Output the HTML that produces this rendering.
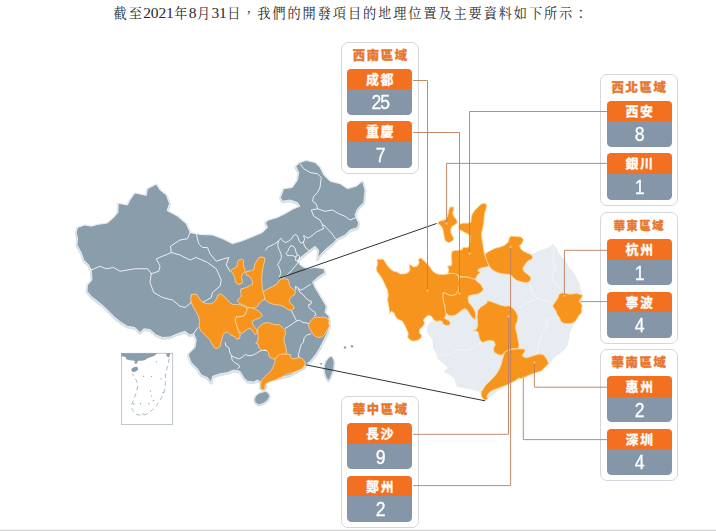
<!DOCTYPE html>
<html lang="zh-Hant">
<head>
<meta charset="utf-8">
<title>開發項目的地理位置</title>
<style>
html,body{margin:0;padding:0;background:#fff;}
body{width:716px;height:531px;position:relative;overflow:hidden;font-family:"Liberation Sans","Noto Sans CJK TC","Noto Sans CJK SC",sans-serif;}
.ttl{position:absolute;left:113.6px;top:2.5px;white-space:nowrap;font-family:"Liberation Serif","Noto Serif CJK SC",serif;font-size:13.2px;line-height:20px;letter-spacing:1.9px;color:#2a2a2a;}
.ttl b{font-weight:normal;font-size:15.5px;letter-spacing:-0.15px;margin-left:-0.6px;margin-right:0.6px;}
.rg{position:absolute;width:76.3px;height:130px;border:1px solid #d3d7de;border-radius:7px;background:#fff;box-sizing:content-box;}
.rt{position:absolute;left:0;top:3.9px;width:76.3px;-webkit-text-stroke:0.35px #e8772e;text-align:center;font-size:12.3px;line-height:18px;font-weight:900;color:#e8772e;letter-spacing:1.7px;text-indent:1.7px;white-space:nowrap;}
.cb{position:absolute;left:5.3px;width:65.4px;height:46.25px;border-radius:4.5px;overflow:hidden;background:#8496a7;}
.rc .cb{left:6px;}
.rt.sm{font-size:11.2px;letter-spacing:1.7px;text-indent:1.7px;top:4.1px;}
.cn{height:20.7px;background:#f37021;color:#fff;font-weight:bold;font-size:13px;line-height:21px;text-align:center;letter-spacing:1.4px;text-indent:1.4px;-webkit-text-stroke:0.3px #fff;}
.cv{height:25.55px;color:#fff;font-size:20.5px;line-height:25.9px;text-align:center;-webkit-text-stroke:0.3px #fff;}
.cv span{display:inline-block;transform:scaleX(.86);letter-spacing:-1px;padding-left:1px;}
.btm{position:absolute;left:0;top:529px;width:716px;height:2px;background:linear-gradient(#f3f3f3 0,#f3f3f3 40%,#d3d3d3 60%,#d3d3d3 100%);}
</style>
</head>
<body>
<div class="ttl">截至<b>2021</b>年<b>8</b>月<b>31</b>日，我們的開發項目的地理位置及主要資料如下所示：</div>
<div class="rg lc" style="left:340.75px;top:41.9px"><div class="rt">西南區域</div><div class="cb" style="top:25.9px"><div class="cn">成都</div><div class="cv"><span>25</span></div></div><div class="cb" style="top:78.5px"><div class="cn">重慶</div><div class="cv"><span>7</span></div></div></div><div class="rg rc" style="left:599.5px;top:73.75px"><div class="rt">西北區域</div><div class="cb" style="top:25.9px"><div class="cn">西安</div><div class="cv"><span>8</span></div></div><div class="cb" style="top:78.5px"><div class="cn">銀川</div><div class="cv"><span>1</span></div></div></div><div class="rg rc" style="left:599.5px;top:212.0px"><div class="rt sm">華東區域</div><div class="cb" style="top:25.9px"><div class="cn">杭州</div><div class="cv"><span>1</span></div></div><div class="cb" style="top:78.5px"><div class="cn">寧波</div><div class="cv"><span>4</span></div></div></div><div class="rg rc" style="left:599.5px;top:349.0px"><div class="rt">華南區域</div><div class="cb" style="top:25.9px"><div class="cn">惠州</div><div class="cv"><span>2</span></div></div><div class="cb" style="top:78.5px"><div class="cn">深圳</div><div class="cv"><span>4</span></div></div></div><div class="rg lc" style="left:340.75px;top:396.25px"><div class="rt">華中區域</div><div class="cb" style="top:25.9px"><div class="cn">長沙</div><div class="cv"><span>9</span></div></div><div class="cb" style="top:78.5px"><div class="cn">鄭州</div><div class="cv"><span>2</span></div></div></div>
<svg width="716" height="531" viewBox="0 0 716 531" style="position:absolute;left:0;top:0"><defs><filter id="bl" x="-10%" y="-10%" width="120%" height="120%"><feGaussianBlur stdDeviation="0.7"/></filter></defs><path d="M490,262 L510,258 L533.2,254.8 L539.1,251.8 L545,249.8 L550,247.9 L552.9,245.3 L555.9,248.8 L557.9,253.8 L560.8,256.8 L563.8,260.7 L566.8,264.7 L568.8,268.6 L571.7,271.6 L573.7,274.5 L575.7,278.5 L578.6,283.4 L579.6,288.4 L581,293.3 L580,310 L574,321 L571.5,326.4 L569.6,330.1 L568.4,335.2 L567.8,340.2 L566.5,345.2 L564,349 L560.2,352.1 L556.5,354.6 L552.7,357.8 L550.2,361.6 L548.3,364.1 L540,368 L520,378 L500,388 L486,399 L480,391 L472.5,388.75 L465,387.5 L457.7,386 L456.5,382.8 L455.2,377.8 L450.2,374 L445.2,371.5 L449,368.4 L446.4,364.6 L442,361.5 L438.3,357.7 L437,352.7 L433.9,348.3 L433.9,343.9 L433.2,338.9 L430,335 L427.6,331.3 L428.2,326.9 L432,322 L445,316 L455,300 L465,285 L475,270Z" fill="#e6ecf1" stroke="#e6ecf1" stroke-width="2" stroke-linejoin="round" filter="url(#bl)"/><path d="M528.22,281.47 L531.19,287.4 L533.17,294.32 L537.12,298.28 L540.09,298.28 L543.05,300.26 L548,301.24 L551.95,302.23" fill="none" stroke="#f6f8fa" stroke-width="0.8" stroke-linejoin="round"/><path d="M537.12,298.28 L529.21,302.23 L523.28,305.2 L518.33,308.17" fill="none" stroke="#f6f8fa" stroke-width="0.8" stroke-linejoin="round"/><path d="M552.94,245.88 L553.93,252.8 L552.94,260.71 L555.91,267.63 L552.94,272.57 L551.95,277.52 L554.92,282.46 L558.87,287.4 L561.84,292.35" fill="none" stroke="#f6f8fa" stroke-width="0.8" stroke-linejoin="round"/><path d="M555.8,317 L551.4,318.8 L546.4,318.8 L547,323.9 L545.1,328.9 L542,332.7 L540.7,337.7 L538.9,342.7 L537.6,349 L537,354" fill="none" stroke="#f6f8fa" stroke-width="0.8" stroke-linejoin="round"/><path d="M437.6,356.4 L442.7,355.2 L447.7,354.6 L452.7,353.3 L456.5,349.5 L460.2,349.5 L464,350.8 L469,350.2 L474.1,347 L477.8,344.5 L481.6,342.6 L485.4,342 L489.2,340.7 L492.9,341.4 L495.4,343.9" fill="none" stroke="#f6f8fa" stroke-width="0.8" stroke-linejoin="round"/><path d="M450.11,207.05 L453.25,206.8 L453.88,209.31 L452.62,212.45 L453.25,215.6 L455.14,218.11 L457.02,220.62 L457.02,223.14 L454.51,225.02 L452,226.28 L450.74,229.42 L451.12,233.19 L452.62,236.34 L453.88,238.85 L452,241.36 L448.85,242.62 L445.71,241.36 L444.45,238.22 L443.83,234.45 L443.2,230.68 L442.32,227.54 L440.06,225.02 L437.54,223.14 L439.43,221.25 L442.57,220.37 L445.71,219.62 L447.35,216.85 L448.23,213.08 L448.85,209.94Z" fill="#f7941e" stroke="#fcd795" stroke-width="0.9" stroke-linejoin="round"/><path d="M480.9,204.28 L484.68,203.28 L486.81,204.91 L485.93,209.31 L484.68,213.08 L484.05,218.11 L483.8,223.14 L482.79,228.17 L481.53,233.19 L481.78,238.22 L482.79,243.25 L483.42,248.28 L484.3,253.3 L485.93,258.33 L485.88,257.54 L487.76,261.94 L489.02,265.71 L486.51,266.97 L482.74,267.6 L478.96,268.85 L477.71,270.74 L480.22,272.62 L477.71,274.51 L476.45,277.02 L475.19,279.54 L471.42,278.28 L467.02,277.02 L462.62,277.02 L458.85,275.77 L453.83,273.88 L448.17,273.25 L448.8,270.11 L447.54,266.09 L451.31,265.71 L451.94,262.57 L451.31,256.28 L451.94,251.89 L451.62,251.42 L455.14,250.54 L458.91,250.16 L462.05,249.78 L462.43,248.03 L464.57,247.27 L467.71,247.65 L469.22,245.76 L469.97,240.74 L469.97,235.71 L467.71,233.82 L463.94,231.94 L460.17,230.05 L458.66,227.54 L459.16,224.4 L462.68,223.14 L467.71,223.14 L470.85,222.51 L471.23,218.11 L472.11,214.34 L474.62,210.57 L477.76,207.43Z" fill="#f7941e" stroke="#fcd795" stroke-width="0.9" stroke-linejoin="round"/><path d="M485.03,253.91 L490.06,250.77 L495.08,248.25 L500.11,247 L505.14,245.11 L508.28,241.97 L509.54,237.57 L511.42,236.06 L516.45,236.56 L520.85,236.94 L523.36,239.45 L522.11,243.23 L519.59,245.74 L520.85,248.88 L523.99,251.4 L527.76,253.28 L530.9,254.54 L532.79,257.05 L531.53,259.57 L529.02,260.19 L526.76,262.08 L524.62,265.22 L522.74,268.36 L523.99,271.51 L527.13,274.02 L530.28,276.53 L530.9,279.68 L528.39,282.19 L525.25,282.82 L520.22,281.56 L516.45,280.3 L513.31,277.79 L510.79,274.65 L505.14,274.02 L500.11,273.39 L495.08,271.51 L491.31,268.99 L488.8,265.22 L486.91,260.82 L485.66,257.05Z" fill="#f7941e" stroke="#fcd795" stroke-width="0.9" stroke-linejoin="round"/><path d="M376.91,259.43 L383.2,259.05 L385.08,261.94 L386.97,265.08 L390.11,268.85 L393.88,271.37 L397.02,272 L400.17,273.88 L404.57,273.88 L408.34,272.62 L409.97,270.11 L409.22,264.45 L410.85,265.08 L413.36,266.97 L417.13,266.34 L419.02,263.2 L418.39,259.43 L420.9,257.79 L422.79,259.43 L425.3,261.94 L427.82,264.45 L430.33,267.6 L432.22,270.74 L435.36,273.25 L439.76,274.51 L444.16,274.51 L447.93,273.88 L451.7,273.25 L455.47,273.88 L457.98,275.14 L458.5,277 L459.27,280 L459.69,284.19 L458.86,288.38 L458.02,291.73 L455.92,294.25 L452.57,295.5 L449.22,295.08 L445.87,293.41 L443.35,292.57 L442.93,296.76 L443.77,301.79 L445.03,306.82 L446.29,311.01 L445.87,315.2 L445.03,317.71 L444.13,317 L445.39,318.88 L449.16,320.77 L450.41,323.28 L449.16,325.42 L445.39,325.17 L442.87,323.91 L442.24,321.4 L440.36,320.77 L436.59,321.4 L433.45,319.51 L431.56,316.37 L428.42,315.11 L425.28,317.62 L423.39,320.14 L424.65,323.28 L422.76,326.42 L419.62,329.57 L419.24,332.71 L421.51,335.22 L421.25,337.74 L417.74,340.25 L413.34,341.25 L409.57,339.62 L407.68,337.11 L408.31,333.34 L406.42,328.94 L404.54,324.54 L402.02,320.77 L398.25,319.51 L395.74,317 L393.85,312.6 L391.34,311.34 L389.83,313.85 L388.83,306.31 L387.57,300.03 L388.2,295 L387.6,290.22 L385.71,286.45 L383.83,282.05 L381.94,278.28 L379.43,274.51 L376.91,271.37 L376.28,268.85 L377.54,263.83Z" fill="#f7941e" stroke="#fcd795" stroke-width="0.9" stroke-linejoin="round"/><path d="M462.62,277.02 L467.02,277.02 L471.42,278.28 L475.19,279.54 L477.71,282.05 L480.85,284.57 L483.58,289.22 L481.06,292.57 L476.87,294.25 L471.84,295.08 L468.49,295.92 L468.07,299.27 L468.91,302.63 L471.01,305.14 L473.52,308.49 L475.2,311.84 L475.62,316.03 L475.2,319.39 L473.1,318.55 L471.01,316.03 L468.91,312.68 L466.82,309.75 L464.72,308.49 L461.79,310.17 L458.44,313.1 L455.08,315.2 L451.73,316.03 L448.38,315.2 L445.87,312.68 L445.03,309.33 L445.03,306.82 L443.77,301.79 L442.93,296.76 L443.35,292.57 L445.87,293.41 L449.22,295.08 L452.57,295.5 L455.92,294.25 L458.02,291.73 L458.86,288.38 L459.69,284.19 L459.27,280 L458.5,277Z" fill="#f7941e" stroke="#fcd795" stroke-width="0.9" stroke-linejoin="round"/><path d="M477.71,310.71 L480.22,307.57 L483.99,305.06 L487.13,302.79 L487.13,300.66 L490.28,301.28 L495.3,303.17 L500.33,305.06 L505.36,306.31 L509.13,305.68 L512.9,308.2 L516.04,311.97 L517.93,316.37 L517.3,321.4 L515.41,325.79 L516.04,330.19 L517.3,335.22 L518.18,340.25 L518.93,345.28 L518.56,348.42 L514.16,348.8 L510.39,349.3 L507.87,350.93 L504.73,352.19 L502.22,354.7 L500.33,355.33 L497.19,354.07 L494.05,352.19 L493.42,348.42 L495.3,344.65 L494.05,341.51 L490.28,340.25 L486.51,340.88 L482.74,342.51 L480.22,340.25 L478.96,336.48 L478.34,332.71 L476.45,330.82 L472.68,330.82 L476.45,328.94 L477.71,325.79 L477.46,321.4 L477.08,316.37Z" fill="#f7941e" stroke="#fcd795" stroke-width="0.9" stroke-linejoin="round"/><path d="M504.54,351.94 L507.68,350.68 L511.45,349.43 L517.74,348.8 L524.02,349.05 L525.28,350.68 L523.39,353.83 L522.13,355.71 L524.65,357.6 L527.79,357.6 L531.56,356.34 L535.33,355.08 L539.1,354.08 L542.87,354.45 L545.39,356.97 L547.27,360.11 L548.53,363.25 L546.64,365.77 L544.13,368.28 L541.62,370.79 L537.85,372.05 L534.07,373.31 L530.3,374.69 L526.53,376.2 L524.27,377.83 L521.76,378.46 L518.74,378.08 L515.47,380.47 L511.45,382.74 L507.68,384.62 L502.65,386.51 L497.62,388.39 L492.6,390.28 L488.83,392.79 L486.94,395.93 L487.57,399.07 L485.68,400.33 L483.17,399.07 L481.28,395.93 L481.28,392.16 L483.17,389.02 L485.68,385.25 L489.45,381.48 L493.23,377.71 L497,373.31 L499.51,368.91 L501.4,363.88 L502.65,358.85 L503.66,355.08Z" fill="#f7941e" stroke="#fcd795" stroke-width="0.9" stroke-linejoin="round"/><path d="M552.68,305.82 L555.19,302.05 L557.71,298.28 L558.96,294.51 L561.48,292.88 L565.25,293.25 L569.02,294.13 L572.79,293.88 L576.56,293.25 L580.33,294.51 L582.85,295.14 L581.59,297.65 L579.7,300.17 L580.33,302.68 L582.22,305.19 L581.59,308.96 L581.59,312.74 L579.07,315.25 L577.19,318.39 L575.3,321.53 L571.53,323.42 L567.76,323.8 L563.99,323.42 L560.85,321.53 L559.59,317.76 L557.08,314.62 L555.82,310.85 L553.94,308.34Z" fill="#f7941e" stroke="#fcd795" stroke-width="0.9" stroke-linejoin="round"/><path d="M76.25,232.5 L77.5,227.5 L85,225 L91.25,226.25 L97.5,224.5 L107.5,223 L113.75,217.5 L118,212.5 L118.25,203.25 L127.5,205 L130,200 L135,193 L146.25,195.5 L147.5,188.75 L156.25,184.25 L160,190 L166.25,195 L169.5,203.75 L167,210.5 L177.5,216.25 L186.25,223.75 L190,232 L200,234.5 L212.5,235 L222.5,238.75 L232.5,243.75 L241.25,241.25 L253.75,236.25 L262.5,232.5 L267.5,227.5 L265.5,222.5 L268.75,220 L277.5,217.5 L285,213.75 L293.75,208.75 L300,206.25 L297.5,202.5 L290,200 L282.5,201.25 L280.5,197.5 L283.75,188.75 L292.5,187.5 L297.5,180 L298.75,172.5 L295.75,166.25 L300,162.5 L306.25,160.5 L315,162.5 L320,167.5 L323.75,175 L330,181.25 L340,183.75 L347.5,188.75 L356.25,186.25 L362.5,181.25 L365,190 L363.75,202.5 L357.5,208.75 L355,215 L358.75,222.5 L357.5,227.5 L350,230 L345,235 L337.5,238.75 L332.5,243.75 L326.25,248.75 L320,255 L317.5,258.75 L318.75,250 L315,246.25 L310,250 L303.75,255 L297.5,260 L300,265 L306.25,268.75 L315,267.5 L323.75,268.75 L325,272.5 L317.5,277.5 L312.5,282 L315,287.5 L318.75,293.75 L322.5,300 L326.25,306.25 L325,312.5 L328.75,316.25 L329.5,325 L327.5,332.5 L323.75,340 L320,347.5 L316.25,353.75 L311.25,360 L306.25,364.5 L303.75,367.5 L297.5,371.25 L290,375 L280,377.5 L270,379.5 L265,382.5 L266.25,386.25 L263.75,390 L260.5,387.5 L261.25,382.5 L257.5,380 L253.75,382 L247.5,381.25 L243.75,377.5 L240,371.25 L233.75,370 L227.5,372.5 L220,373.75 L212.5,376.25 L211.25,382.5 L207.5,377.5 L201.25,375 L197.5,368.75 L191.25,362.5 L188.75,356.25 L188.75,353.75 L195,347.5 L196.25,340 L193.75,333.75 L190,335 L185,331.25 L177.5,333.75 L170,337 L162.5,337.5 L156.25,335 L150,329.5 L143.75,328.75 L140,332.5 L135,327.5 L127.5,326.25 L121.25,322.5 L115,317.5 L110,312.5 L103.75,306.25 L97.5,301.25 L91.25,296.25 L87,291.25 L87.5,285 L92,280 L91.25,270 L88.75,265 L83.75,260 L81.25,252.5 L77,245 L77.5,238.75Z" fill="#d6dee6" stroke="#d6dee6" stroke-width="2.8" stroke-linejoin="round" transform="translate(0,0.8)"/><path d="M76.25,232.5 L77.5,227.5 L85,225 L91.25,226.25 L97.5,224.5 L107.5,223 L113.75,217.5 L118,212.5 L118.25,203.25 L127.5,205 L130,200 L135,193 L146.25,195.5 L147.5,188.75 L156.25,184.25 L160,190 L166.25,195 L169.5,203.75 L167,210.5 L177.5,216.25 L186.25,223.75 L190,232 L200,234.5 L212.5,235 L222.5,238.75 L232.5,243.75 L241.25,241.25 L253.75,236.25 L262.5,232.5 L267.5,227.5 L265.5,222.5 L268.75,220 L277.5,217.5 L285,213.75 L293.75,208.75 L300,206.25 L297.5,202.5 L290,200 L282.5,201.25 L280.5,197.5 L283.75,188.75 L292.5,187.5 L297.5,180 L298.75,172.5 L295.75,166.25 L300,162.5 L306.25,160.5 L315,162.5 L320,167.5 L323.75,175 L330,181.25 L340,183.75 L347.5,188.75 L356.25,186.25 L362.5,181.25 L365,190 L363.75,202.5 L357.5,208.75 L355,215 L358.75,222.5 L357.5,227.5 L350,230 L345,235 L337.5,238.75 L332.5,243.75 L326.25,248.75 L320,255 L317.5,258.75 L318.75,250 L315,246.25 L310,250 L303.75,255 L297.5,260 L300,265 L306.25,268.75 L315,267.5 L323.75,268.75 L325,272.5 L317.5,277.5 L312.5,282 L315,287.5 L318.75,293.75 L322.5,300 L326.25,306.25 L325,312.5 L328.75,316.25 L329.5,325 L327.5,332.5 L323.75,340 L320,347.5 L316.25,353.75 L311.25,360 L306.25,364.5 L303.75,367.5 L297.5,371.25 L290,375 L280,377.5 L270,379.5 L265,382.5 L266.25,386.25 L263.75,390 L260.5,387.5 L261.25,382.5 L257.5,380 L253.75,382 L247.5,381.25 L243.75,377.5 L240,371.25 L233.75,370 L227.5,372.5 L220,373.75 L212.5,376.25 L211.25,382.5 L207.5,377.5 L201.25,375 L197.5,368.75 L191.25,362.5 L188.75,356.25 L188.75,353.75 L195,347.5 L196.25,340 L193.75,333.75 L190,335 L185,331.25 L177.5,333.75 L170,337 L162.5,337.5 L156.25,335 L150,329.5 L143.75,328.75 L140,332.5 L135,327.5 L127.5,326.25 L121.25,322.5 L115,317.5 L110,312.5 L103.75,306.25 L97.5,301.25 L91.25,296.25 L87,291.25 L87.5,285 L92,280 L91.25,270 L88.75,265 L83.75,260 L81.25,252.5 L77,245 L77.5,238.75Z" fill="#899dab" stroke="#f4f7f9" stroke-width="0.8" stroke-linejoin="round"/><path d="M254.54,399.05 L255.79,395.9 L258.94,393.39 L262.71,392.13 L265.85,391.51 L268.36,393.39 L269.62,395.9 L268.36,399.05 L265.85,401.56 L262.71,403.45 L258.94,404.7 L256.42,403.45 L254.91,401.56Z" fill="#d6dee6" stroke="#d6dee6" stroke-width="2.4" stroke-linejoin="round" transform="translate(0,0.6)"/><path d="M254.54,399.05 L255.79,395.9 L258.94,393.39 L262.71,392.13 L265.85,391.51 L268.36,393.39 L269.62,395.9 L268.36,399.05 L265.85,401.56 L262.71,403.45 L258.94,404.7 L256.42,403.45 L254.91,401.56Z" fill="#899dab" stroke="#f4f7f9" stroke-width="0.6" stroke-linejoin="round"/><path d="M331.3,356.2 L333,358.5 L334.1,362.3 L333.9,365 L333.5,368 L332.6,371.5 L331.3,375 L330.2,378 L328.6,380.3 L327.2,379 L325.6,376 L324.6,372 L324.3,368 L325,364 L326.3,361 L328.5,358Z" fill="#d6dee6" stroke="#d6dee6" stroke-width="2.4" stroke-linejoin="round" transform="translate(0,0.6)"/><path d="M331.3,356.2 L333,358.5 L334.1,362.3 L333.9,365 L333.5,368 L332.6,371.5 L331.3,375 L330.2,378 L328.6,380.3 L327.2,379 L325.6,376 L324.6,372 L324.3,368 L325,364 L326.3,361 L328.5,358Z" fill="#899dab" stroke="#f4f7f9" stroke-width="0.6" stroke-linejoin="round"/><circle cx="345" cy="347.5" r="1.2" fill="#899dab"/><circle cx="352" cy="346.2" r="1.2" fill="#899dab"/><circle cx="321.2" cy="363.8" r="1.0" fill="#899dab"/><path d="M91.25,270 L100,266.25 L106.25,268.75 L113.75,267.5 L120,271.25 L135,268.75 L147.5,268.75 L151.25,273.75" fill="none" stroke="#f5f7fa" stroke-width="0.9" stroke-linejoin="round" stroke-linecap="round"/><path d="M151.25,273.75 L158.75,271.25 L160,266.25 L156.25,258.75 L167.5,254.25 L171.25,252.5 L170.5,246.25 L180,240 L187.5,238.75 L190,232.5" fill="none" stroke="#f5f7fa" stroke-width="0.9" stroke-linejoin="round" stroke-linecap="round"/><path d="M190,232.5 L196.25,233.75 L198.75,243.75 L202.5,247.5 L207.5,247.5 L210,253.75 L216.25,261.25 L223.75,258.75 L228.75,257.5 L226.25,265 L230,271.25" fill="none" stroke="#f5f7fa" stroke-width="0.9" stroke-linejoin="round" stroke-linecap="round"/><path d="M171.25,252.5 L180,255 L190,260 L196.25,257.5 L207.5,262.5 L216.25,268.75 L221.25,280 L220,286.25 L212.5,292.5 L211.25,297.5 L202.5,302.5" fill="none" stroke="#f5f7fa" stroke-width="0.9" stroke-linejoin="round" stroke-linecap="round"/><path d="M151.25,273.75 L150,282.5 L153.75,292.5 L162.5,297.5 L172.5,300 L180,306.25 L185,307.5 L191.25,302.5 L191.75,295" fill="none" stroke="#f5f7fa" stroke-width="0.9" stroke-linejoin="round" stroke-linecap="round"/><path d="M193.75,333.75 L196,330 L198,327.5" fill="none" stroke="#f5f7fa" stroke-width="0.9" stroke-linejoin="round" stroke-linecap="round"/><path d="M300,163.75 L303.75,168.75 L310,172.5 L317.5,173.75 L321.25,177.5 L320,187.5 L317.5,192.5 L313.75,196.25 L312.5,201.25 L316.25,203.75 L317.5,208.75 L311.25,210 L313.75,216.25 L320,220 L322.5,225 L323.59,228.77 L320.45,230.03 L316.68,231.91 L313.53,234.43 L310.39,236.94 L307.25,238.2 L305.36,236.31 L303.48,235.68 L304.74,238.83 L303.48,241.97 L300.96,243.23 L299.08,240.71 L297.82,236.94 L295.94,234.43 L293.42,235.68 L291.54,238.83 L288.4,241.34 L285.25,242.6 L282.74,240.71 L280.85,238.2 L278.34,241.34 L274.57,243.85 L270.8,245.74 L267.66,247 L265.77,250.14" fill="none" stroke="#f5f7fa" stroke-width="0.9" stroke-linejoin="round" stroke-linecap="round"/><path d="M317.5,208.75 L325,211.25 L332.5,210 L338.75,213.75 L345,216.25 L350,220 L356.25,217.5 L358.75,222.5" fill="none" stroke="#f5f7fa" stroke-width="0.9" stroke-linejoin="round" stroke-linecap="round"/><path d="M322.5,225 L324.85,225.63 L327.36,228.77 L330.5,231.91 L333.02,235.06 L334.9,238.2 L337.41,239.83" fill="none" stroke="#f5f7fa" stroke-width="0.9" stroke-linejoin="round" stroke-linecap="round"/><path d="M303.48,241.97 L304.11,245.11 L305.99,248.25 L308.76,250.14" fill="none" stroke="#f5f7fa" stroke-width="0.9" stroke-linejoin="round" stroke-linecap="round"/><path d="M290.91,245.74 L293.42,246.37 L295.31,248.88 L295.94,252.02 L297.19,254.54 L299.71,256.42 L299.08,259.57 L297.82,261.45 L295.31,260.19 L295.94,257.05 L294.05,256.42 L292.17,255.17 L289.65,255.79 L287.14,255.17 L285.88,253.28 L287.77,251.4 L289.02,248.25 L290.91,245.74" fill="none" stroke="#f5f7fa" stroke-width="0.9" stroke-linejoin="round" stroke-linecap="round"/><path d="M297.19,254.54 L295.94,257.05" fill="none" stroke="#f5f7fa" stroke-width="0.9" stroke-linejoin="round" stroke-linecap="round"/><path d="M280.23,278.42 L279.6,276.53 L280.85,272.76 L279.6,268.36 L277.71,264.59 L279.6,261.45 L281.48,257.68 L280.85,253.28 L278.97,249.51 L277.71,245.74 L278.34,241.34" fill="none" stroke="#f5f7fa" stroke-width="0.9" stroke-linejoin="round" stroke-linecap="round"/><path d="M298.45,261.45 L295.94,265.22 L292.17,269.62 L289.02,273.39 L285.88,275.9 L282.11,278.04" fill="none" stroke="#f5f7fa" stroke-width="0.9" stroke-linejoin="round" stroke-linecap="round"/><path d="M310.39,284.45 L307.25,286.34 L303.48,288.85 L300.34,290.11 L297.82,287.6 L295.31,286.34 L295.94,289.48 L293.42,292" fill="none" stroke="#f5f7fa" stroke-width="0.9" stroke-linejoin="round" stroke-linecap="round"/><path d="M297.82,287.6 L299.71,292 L303.48,295.14 L305.99,298.28 L309.13,300.79 L311.65,301.42 L311.02,303.94 L308.51,304.57 L309.13,307.71 L311.65,310.22 L314.79,312.11 L316.05,314.62 L314.16,315.88" fill="none" stroke="#f5f7fa" stroke-width="0.9" stroke-linejoin="round" stroke-linecap="round"/><path d="M291.54,310.85 L293.42,314.62 L295.31,318.39 L296.57,320.9 L299.71,320.28 L302.22,322.16 L305.36,322.79 L308.51,323.42" fill="none" stroke="#f5f7fa" stroke-width="0.9" stroke-linejoin="round" stroke-linecap="round"/><path d="M296.57,320.9 L292.17,324.05 L288.4,326.56 L285.25,328.45" fill="none" stroke="#f5f7fa" stroke-width="0.9" stroke-linejoin="round" stroke-linecap="round"/><path d="M310.96,333.88 L306.56,335.14 L304.05,338.28 L303.42,342.05 L300.9,345.19 L299.65,350.22 L298.39,354.62 L299.02,357.51" fill="none" stroke="#f5f7fa" stroke-width="0.9" stroke-linejoin="round" stroke-linecap="round"/><path d="M225.22,342.6 L225.85,345.74 L228.99,347.62 L229.62,352.02 L231.51,355.79 L232.13,360.19 L234.65,362.71 L238.42,364.59 L239.68,367.11 L237.79,368.36" fill="none" stroke="#f5f7fa" stroke-width="0.9" stroke-linejoin="round" stroke-linecap="round"/><path d="M231.51,355.79 L235.28,357.68 L239.05,358.94 L242.19,357.05 L245.33,354.54 L249.1,355.79 L252.87,355.17 L256.64,353.28 L259.16,351.4 L262.93,350.14 L266.7,350.77" fill="none" stroke="#f5f7fa" stroke-width="0.9" stroke-linejoin="round" stroke-linecap="round"/><path d="M238.83,260.06 L241.97,259.05 L243.85,260.68 L243.23,263.83 L243.85,266.97 L245.11,268.85 L245.11,272 L242.6,273.88 L241.34,277.02 L242.6,280.79 L241.97,283.31 L238.83,284.57 L236.31,283.31 L235.06,280.17 L234.43,276.4 L232.54,273.25 L230.66,270.74 L232.54,268.85 L236.31,267.6 L237.57,264.45 L237.57,261.94Z" fill="#f7941e" stroke="#fde0ae" stroke-width="0.7" stroke-linejoin="round"/><path d="M258.94,257.54 L262.08,256.91 L264.59,257.79 L264.97,259.43 L263.96,263.83 L262.71,268.85 L262.08,273.88 L261.7,278.91 L262.08,283.94 L262.46,288.96 L263.34,292.74 L264.22,295.25 L265.22,299.65 L262.71,300.28 L259.57,302.79 L257.68,306.56 L253.91,307.82 L247.62,307.19 L243.85,305.3 L239.45,303.42 L237.57,301.53 L238.2,299.02 L241.34,296.51 L240.71,292.74 L240.71,288.96 L243.85,288.34 L247,287.08 L249.51,285.82 L252.65,283.94 L252.02,280.17 L250.14,277.02 L246.37,275.14 L245.74,272 L250.14,270.74 L253.91,269.48 L254.54,265.08 L256.42,261.31Z" fill="#f7941e" stroke="#fde0ae" stroke-width="0.7" stroke-linejoin="round"/><path d="M280.3,279.16 L284.07,278.66 L287.85,279.16 L289.1,282.68 L289.73,286.45 L292.87,288.96 L295.39,291.48 L294.76,294.62 L291.62,296.51 L289.1,299.65 L290.36,303.42 L293.5,305.93 L294.13,308.45 L291.62,310.33 L287.85,309.7 L284.07,306.56 L280.3,305.3 L275.28,304.68 L270.25,303.42 L266.48,300.9 L265.22,299.65 L264.22,295.25 L263.34,291.48 L267.74,288.96 L272.76,286.45 L277.16,283.94 L279.05,280.79Z" fill="#f7941e" stroke="#fde0ae" stroke-width="0.7" stroke-linejoin="round"/><path d="M191.28,294.43 L196.31,294.05 L198.83,297.57 L201.34,301.34 L205.74,303.6 L210.14,303.85 L213.28,302.6 L215.79,300.08 L217.93,295.06 L220.82,293.8 L223.96,296.31 L227.11,299.45 L229.62,302.6 L232.76,304.48 L237.79,304.48 L242.82,305.74 L247.22,308.25 L246.59,312.02 L244.07,315.79 L239.68,317.05 L236.53,316.42 L235.28,320.19 L236.53,324.59 L237.79,328.99 L239.05,332.13 L240.3,334.65 L239.68,338.42 L236.53,339.05 L234.65,336.53 L232.76,335.9 L230.25,334.65 L227.74,332.13 L225.22,332.13 L222.71,335.28 L222.08,339.05 L220.82,342.82 L220.19,346.59 L217.68,348.47 L214.54,347.85 L212.02,344.07 L210.14,340.3 L206.37,336.53 L202.6,332.76 L200.08,329.62 L199.08,325.22 L199.45,320.19 L198.2,315.79 L195.68,310.77 L192.54,305.74 L190.66,300.08Z" fill="#f7941e" stroke="#fde0ae" stroke-width="0.7" stroke-linejoin="round"/><path d="M247.22,308.25 L250.36,307.62 L254.76,308.88 L258.53,310.77 L261.04,313.28 L262.3,315.79 L259.16,318.31 L255.39,319.57 L252.87,320.82 L252.24,323.96 L254.13,326.48 L256.64,329.62 L257.27,332.76 L255.39,334.65 L252.87,331.51 L250.36,328.36 L247.85,328.99 L245.33,330.88 L242.19,333.39 L239.05,332.13 L237.79,328.99 L236.53,324.59 L235.28,320.19 L236.53,316.42 L239.68,317.05 L244.07,315.79 L246.59,312.02Z" fill="#f7941e" stroke="#fde0ae" stroke-width="0.7" stroke-linejoin="round"/><path d="M259.43,326.34 L262.57,323.83 L266.34,322.57 L270.74,323.2 L275.14,324.83 L278.91,324.45 L282.05,326.97 L285.19,330.11 L285.44,334.51 L283.94,338.28 L284.57,342.68 L285.82,347.71 L286.7,352.11 L286.45,353.99 L282.68,354.24 L280.17,355.25 L278.91,357.13 L275.77,358.39 L273.25,359.02 L270.11,357.76 L268.85,355.25 L268.23,352.11 L265.71,349.59 L261.94,350.22 L258.8,347.71 L258.17,343.94 L255.66,343.31 L257.79,340.79 L258.17,336.4 L257.54,332 L257.79,328.85Z" fill="#f7941e" stroke="#fde0ae" stroke-width="0.7" stroke-linejoin="round"/><path d="M275.28,358.83 L277.79,355.68 L280.3,354.43 L286.59,354.05 L290.36,354.43 L290.36,356.94 L292.24,358.83 L295.39,358.57 L299.16,357.57 L301.67,358.2 L304.19,360.71 L305.44,363.85 L304.19,366.37 L301.67,368.88 L297.9,370.77 L294.13,372.02 L290.36,373.28 L286.59,373.91 L284.07,375.79 L280.3,377.68 L276.53,379.57 L272.76,380.82 L268.99,382.08 L265.85,383.96 L264.59,386.48 L265.22,388.99 L262.71,390.25 L260.82,388.36 L260.19,385.22 L260.82,382.08 L262.71,378.94 L265.22,376.42 L268.36,373.28 L271.51,370.14 L273.39,366.37 L274.65,362.6Z" fill="#f7941e" stroke="#fde0ae" stroke-width="0.7" stroke-linejoin="round"/><path d="M308.45,324.45 L310.96,320.68 L313.47,317.79 L316.62,316.91 L320.39,317.54 L324.16,316.91 L327.3,318.17 L329.19,320.68 L328.56,323.83 L329.81,325.71 L327.93,328.85 L326.04,332 L324.16,335.14 L321.64,337.02 L318.5,337.65 L315.36,336.4 L312.85,333.88 L310.96,330.74 L309.07,327.6Z" fill="#f7941e" stroke="#fde0ae" stroke-width="0.7" stroke-linejoin="round"/><g><rect x="121.4" y="353.3" width="51.3" height="71.2" fill="#fff" stroke="#b0b8c1" stroke-width="0.8"/><path d="M121.33,353.27 L157.16,353.27 L154.9,355.53 L151.14,357.03 L147.38,358.24 L145.12,360.04 L142.11,360.8 L137.89,360.8 L137.29,363.05 L135.78,363.96 L134.58,363.05 L134.58,360.8 L130.06,360.34 L126.3,359.29 L125.55,357.03 L121.33,356.28Z" fill="#899dab"/><path d="M166.19,353.27 L170.41,353.27 L169.5,356.28 L168,357.48 L166.64,355.53Z" fill="#899dab"/><ellipse cx="134.7" cy="369.3" rx="3.5" ry="2.3" transform="rotate(-22 134.7 369.3)" fill="#899dab"/><path d="M169.2,358.54 L167.7,366.06 L165.44,373.59 L165.44,382.62 L164.69,390.15 L162.43,396.17 L158.67,402.19 L154.15,408.21 L148.13,413.48 L142.11,415.74 L136.09,414.24 L132.32,409.72 L131.57,405.2 L133.83,399.18 L136.09,393.16 L137.59,387.14 L136.84,381.12 L133.83,376.6 L132.32,373.59" fill="none" stroke="#899dab" stroke-width="0.7" stroke-dasharray="4.5 3.2"/><circle cx="156.41" cy="361.85" r="0.65" fill="#899dab"/><circle cx="143.61" cy="376.3" r="0.65" fill="#899dab"/><circle cx="151.44" cy="376.3" r="0.65" fill="#899dab"/><circle cx="160.92" cy="378.86" r="0.65" fill="#899dab"/><circle cx="150.39" cy="390.9" r="0.65" fill="#899dab"/><circle cx="163.18" cy="392.41" r="0.65" fill="#899dab"/><circle cx="151.44" cy="395.87" r="0.65" fill="#899dab"/><circle cx="153.4" cy="400.39" r="0.65" fill="#899dab"/><circle cx="133.83" cy="404.0" r="0.65" fill="#899dab"/><circle cx="140.6" cy="403.7" r="0.65" fill="#899dab"/><circle cx="148.88" cy="403.7" r="0.65" fill="#899dab"/><circle cx="142.86" cy="413.93" r="0.65" fill="#899dab"/></g><path d="M279.2,278.3 L436.6,223.5" stroke="#1a1a1a" stroke-width="0.9" fill="none"/><path d="M305.8,364.8 L485,400.8" stroke="#1a1a1a" stroke-width="0.9" fill="none"/><path d="M413,80.5 L427.5,80.5 L427.5,290.5" fill="none" stroke="#bd7d59" stroke-width="0.9"/><circle cx="427.5" cy="290.5" r="1" fill="#fbd08a"/><path d="M413,132.5 L459.5,132.5 L459.5,293.5" fill="none" stroke="#bd7d59" stroke-width="0.9"/><circle cx="459.5" cy="293.5" r="1" fill="#fbd08a"/><path d="M607,111.5 L469.5,111.5 L469.5,253.5" fill="none" stroke="#bd7d59" stroke-width="0.9"/><circle cx="469.5" cy="253.5" r="1" fill="#fbd08a"/><path d="M607,163.4 L446.6,163.4 L446.6,223.5" fill="none" stroke="#bd7d59" stroke-width="0.9"/><circle cx="446.6" cy="223.5" r="1" fill="#fbd08a"/><path d="M607,250.3 L564.4,250.3 L564.4,295.8" fill="none" stroke="#bd7d59" stroke-width="0.9"/><circle cx="564.4" cy="295.8" r="1" fill="#fbd08a"/><path d="M607,301.6 L580,301.6" fill="none" stroke="#bd7d59" stroke-width="0.9"/><circle cx="580" cy="301.6" r="1" fill="#fbd08a"/><path d="M607,387.2 L534.4,387.2 L534.4,362.4" fill="none" stroke="#bd7d59" stroke-width="0.9"/><circle cx="534.4" cy="362.4" r="1" fill="#fbd08a"/><path d="M607,439.6 L523.3,439.6 L523.3,377.5" fill="none" stroke="#bd7d59" stroke-width="0.9"/><circle cx="523.3" cy="377.5" r="1" fill="#fbd08a"/><path d="M413,434.3 L508.5,434.3 L508.5,316.4" fill="none" stroke="#bd7d59" stroke-width="0.9"/><circle cx="508.5" cy="316.4" r="1" fill="#fbd08a"/><path d="M413,485.6 L510.6,485.6 L510.6,247" fill="none" stroke="#bd7d59" stroke-width="0.9"/><circle cx="510.6" cy="247" r="1" fill="#fbd08a"/></svg>
<div class="btm"></div>
</body>
</html>
